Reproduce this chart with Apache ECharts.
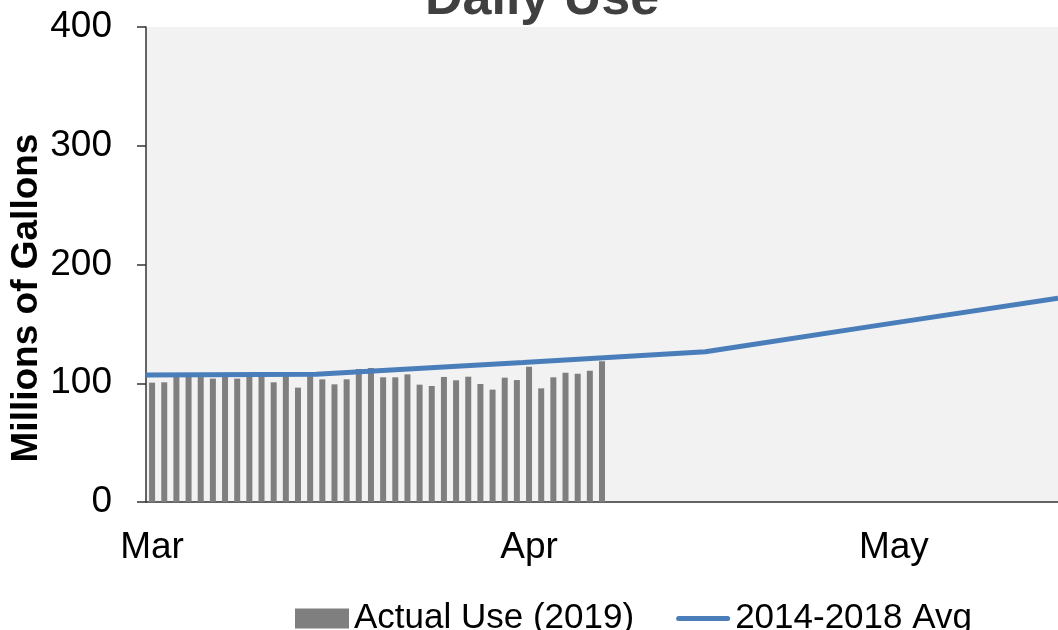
<!DOCTYPE html>
<html>
<head>
<meta charset="utf-8">
<title>Daily Use</title>
<script src="https://cdn.jsdelivr.net/npm/echarts@6/dist/echarts.min.js"></script>
<style>
  html, body { margin: 0; padding: 0; background: #fff; }
  #chart { width: 1058px; height: 630px; }
</style>
</head>
<body>
<div id="chart"></div>
<script>
// day slots shown on the x axis (Mar 1 .. May 14, 2019)
const startDate = '2019-03-01';
const dayCount = 75;
const monthNames = ['Jan', 'Feb', 'Mar', 'Apr', 'May', 'Jun'];

// Actual Use (2019), one value per day from Mar 1
const actualUse = [
  100.5, 100.8, 106, 106, 106, 103.9, 106, 103.9, 106, 106,
  100.8, 106, 96.3, 106, 103.3, 99.1, 103.3, 112, 112.8, 105,
  105, 107.5, 98.8, 97.7, 105.3, 102.5, 105.5, 99.4, 94.6, 104.7,
  102.7, 114, 95.7, 105, 108.9, 108.1, 110.6, 118.5
];

// 2014-2018 Avg, read at these dates
const avgDates = ['2019-03-01', '2019-03-15', '2019-04-01', '2019-04-16', '2019-05-01', '2019-05-15'];
const avgValues = [107, 107.5, 117.5, 126.5, 150, 171.5];

const yTicks = [0, 100, 200, 300, 400];

const DAY = 24 * 3600 * 1000;
const t0 = Date.parse(startDate + 'T00:00:00Z');
const days = [];
for (let i = 0; i < dayCount; i++) {
  days.push(new Date(t0 + i * DAY).toISOString().slice(0, 10));
}
const avgData = avgDates.map((d, i) => [(Date.parse(d + 'T00:00:00Z') - t0) / DAY, avgValues[i]]);

const chart = echarts.init(document.getElementById('chart'));
const option = {
  animation: false,
  title: {
    text: 'Daily Use',
    left: 425,
    top: -26,
    padding: 0,
    textStyle: { fontFamily: 'Liberation Sans', fontSize: 52, fontWeight: 'bold', color: '#404040' }
  },
  graphic: [{
    type: 'text',
    x: 27,
    y: 298,
    rotation: Math.PI / 2,
    style: {
      text: 'Millions of Gallons',
      fontFamily: 'Liberation Sans',
      fontSize: 37,
      fontWeight: 'bold',
      fill: '#000',
      align: 'center',
      verticalAlign: 'middle'
    }
  }],
  legend: {
    left: 290,
    top: 596,
    itemWidth: 54,
    itemHeight: 20,
    itemGap: 42,
    textStyle: { fontFamily: 'Liberation Sans', fontSize: 35, color: '#000' },
    data: [
      { name: 'Actual Use (2019)', icon: 'rect' },
      { name: '2014-2018 Avg', icon: 'path://M2.5,0 L51.5,0 A2.5,2.5 0 0 1 51.5,5 L2.5,5 A2.5,2.5 0 0 1 2.5,0 Z' }
    ]
  },
  grid: {
    left: 146,
    top: 27,
    right: 0,
    bottom: 128,
    show: true,
    backgroundColor: '#f2f2f2',
    borderWidth: 0
  },
  xAxis: [
    {
      type: 'category',
      data: days,
      boundaryGap: true,
      axisLine: { lineStyle: { color: '#333', width: 1.5 } },
      axisTick: {
        length: 12,
        interval: (idx, val) => val.slice(8) === '01',
        lineStyle: { color: '#333', width: 1.5 }
      },
      axisLabel: {
        interval: (idx, val) => val.slice(8) === '01',
        formatter: val => monthNames[parseInt(val.slice(5, 7), 10) - 1],
        margin: 27,
        fontFamily: 'Liberation Sans',
        fontSize: 37,
        color: '#000'
      },
      splitLine: { show: false }
    },
    {
      type: 'value',
      min: 0,
      max: dayCount,
      show: false
    }
  ],
  yAxis: {
    type: 'value',
    min: yTicks[0],
    max: yTicks[yTicks.length - 1],
    interval: 100,
    axisLine: { show: true, lineStyle: { color: '#333', width: 1.5 } },
    axisTick: { show: true, length: 9, lineStyle: { color: '#333', width: 1.5 } },
    axisLabel: { margin: 34, fontFamily: 'Liberation Sans', fontSize: 37, color: '#000' },
    splitLine: { show: false }
  },
  series: [
    {
      name: 'Actual Use (2019)',
      type: 'bar',
      xAxisIndex: 0,
      barWidth: 6,
      itemStyle: { color: '#7f7f7f' },
      data: actualUse
    },
    {
      name: '2014-2018 Avg',
      type: 'line',
      xAxisIndex: 1,
      symbol: 'none',
      lineStyle: { color: '#4a7ebb', width: 5 },
      itemStyle: { color: '#4a7ebb' },
      data: avgData
    }
  ]
};
chart.setOption(option);
window.addEventListener('resize', () => chart.resize());
</script>
</body>
</html>
